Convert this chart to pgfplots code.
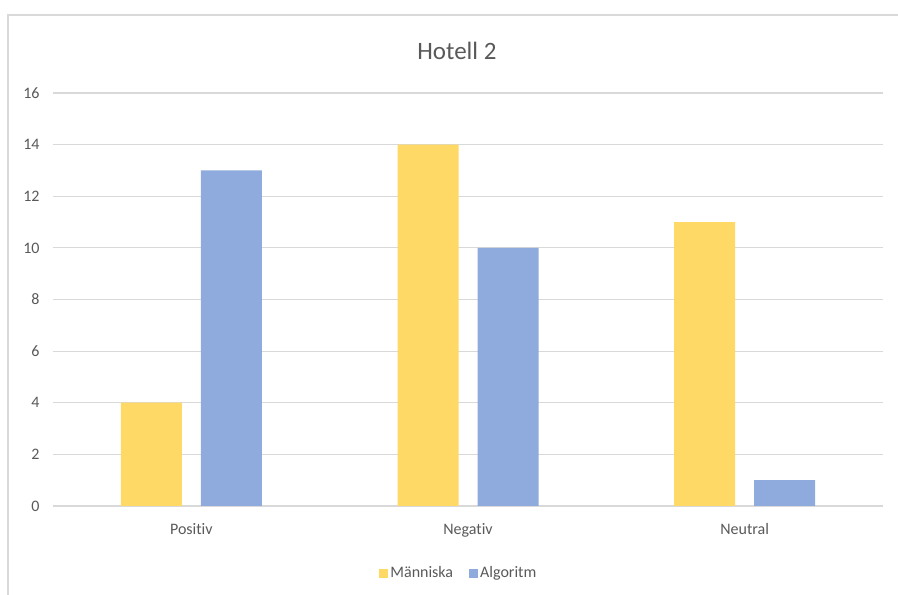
\documentclass[border=0pt]{standalone}
\usepackage{pgfplots}
\pgfplotsset{compat=1.18}
\usepackage{fontspec}
\setmainfont[Ligatures={NoCommon}]{Carlito}

\definecolor{txtgray}{HTML}{595959}
\definecolor{gridgray}{HTML}{D9D9D9}
\definecolor{frame}{HTML}{D9D9D9}
\definecolor{manniska}{HTML}{FFD966}
\definecolor{algoritm}{HTML}{8FAADC}

\begin{document}
\begin{tikzpicture}
\useasboundingbox (0,0) rectangle (898bp,595bp);
% chart frame (left and top edges)
\draw[frame, line width=1.2bp] (8bp,0) -- (8bp,580bp) -- (898bp,580bp);
\begin{axis}[
  at={(53bp,89bp)}, anchor=south west,
  scale only axis,
  width=830bp, height=413bp,
  ybar=19bp, bar width=61bp,
  xmin=-0.5, xmax=2.5,
  ymin=0, ymax=16,
  xtick={0,1,2},
  xticklabels={Positiv,Negativ,Neutral},
  ytick={0,2,...,16},
  axis line style={draw=none},
  major tick length=0pt,
  ymajorgrids,
  grid style={gridgray, line width=1.2bp},
  tick label style={font=\fontsize{16bp}{19bp}\selectfont, text=txtgray},
  /pgf/number format/assume math mode=true,
  yticklabel style={xshift=-10bp},
  xticklabel style={yshift=-14bp},
  title={Hotell 2},
  title style={at={(0.4867,1)}, anchor=center, yshift=36bp,
    font=\fontsize{25bp}{30bp}\selectfont, text=txtgray},
  legend style={at={(0.489,0)}, anchor=center, yshift=-67bp,
    draw=none, fill=none, legend columns=-1,
    font=\fontsize{16bp}{19bp}\selectfont, text=txtgray,
    /tikz/every odd column/.append style={column sep=0bp},
    /tikz/every even column/.append style={column sep=14bp},
    legend cell align=left},
  legend image code/.code={\fill[#1] (0bp,-4.5bp) rectangle (9bp,4.5bp);},
]
\addplot[fill=manniska, draw=none] coordinates {(0,4) (1,14) (2,11)};
\addplot[fill=algoritm, draw=none] coordinates {(0,13) (1,10) (2,1)};
\legend{Människa,Algoritm}
\end{axis}
\end{tikzpicture}
\end{document}
